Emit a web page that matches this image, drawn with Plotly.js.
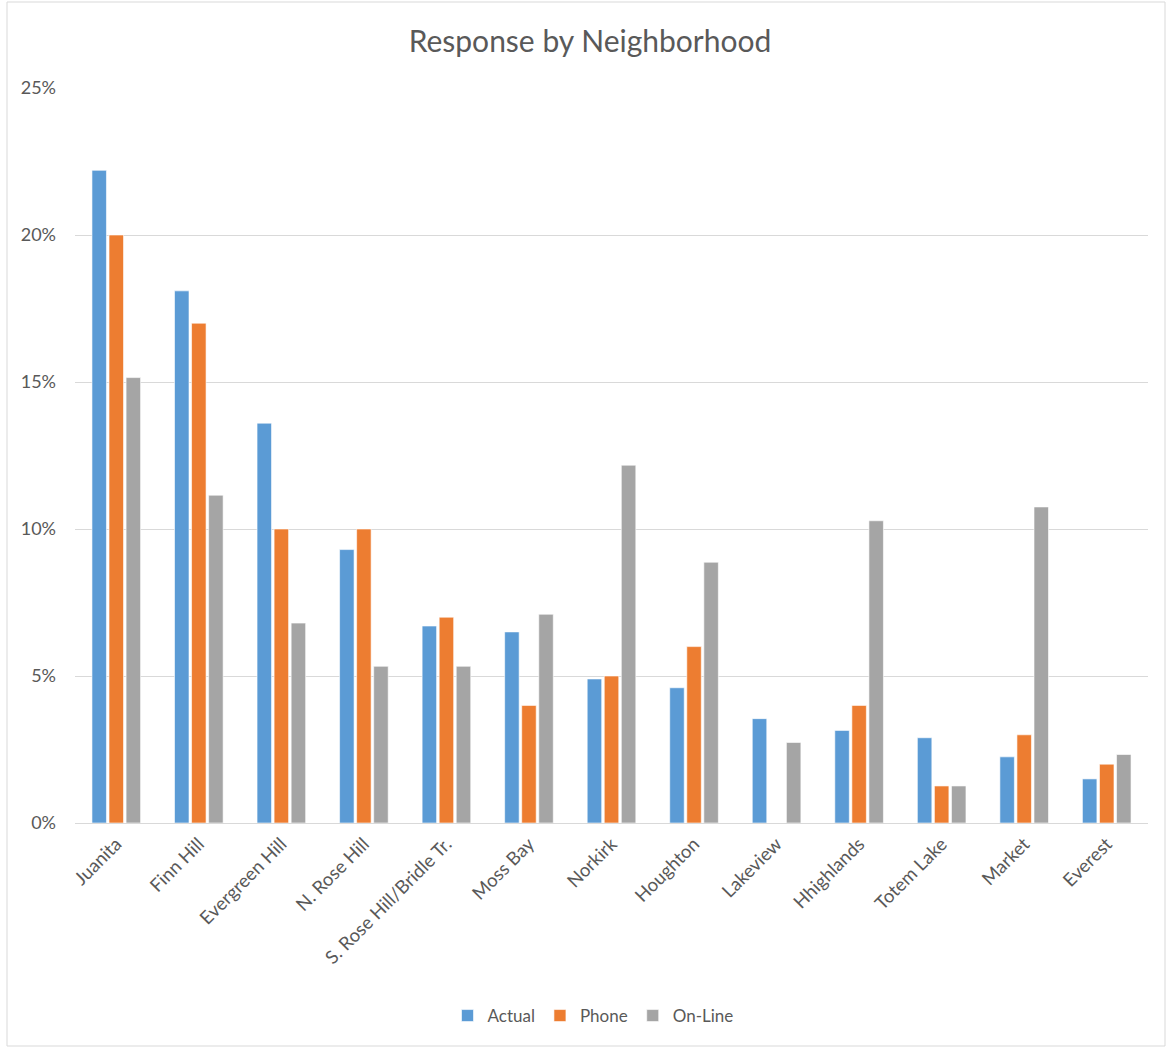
<!DOCTYPE html>
<html>
<head>
<meta charset="utf-8">
<script src="https://cdn.plot.ly/plotly-3.0.1.min.js"></script>
<style>
  html, body { margin: 0; padding: 0; background: #ffffff; }
  #chart { width: 1171px; height: 1049px; }
</style>
</head>
<body>
<div id="chart"></div>
<script>
const categories = ["Juanita", "Finn Hill", "Evergreen Hill", "N. Rose Hill", "S. Rose Hill/Bridle Tr.", "Moss Bay", "Norkirk", "Houghton", "Lakeview", "Hhighlands", "Totem Lake", "Market", "Everest"];
const actual = [22.2, 18.1, 13.6, 9.3, 6.7, 6.5, 4.9, 4.6, 3.55, 3.15, 2.9, 2.25, 1.5];
const phone  = [20.0, 17.0, 10.0, 10.0, 7.0, 4.0, 5.0, 6.0, 0, 4.0, 1.26, 3.0, 2.0];
const online = [15.15, 11.15, 6.8, 5.33, 5.33, 7.1, 12.17, 8.87, 2.74, 10.28, 1.26, 10.75, 2.33];
const seriesNames = ["Actual", "Phone", "On-Line"];
const seriesColors = ["#5B9BD5", "#ED7D31", "#A5A5A5"];
const yTicks = [0, 5, 10, 15, 20, 25];

const FONT = "Lato, 'Open Sans', sans-serif";
const TXT = "#595959";

const data = [actual, phone, online].map((vals, i) => ({
  type: "bar",
  name: seriesNames[i],
  x: categories,
  y: vals,
  marker: { color: seriesColors[i], line: { color: "#ffffff", width: 0.6 } },
  hovertemplate: "%{x}: %{y}%<extra>" + seriesNames[i] + "</extra>"
}));

// border of chart area (paper coords relative to plot area)
const L = 75, R = 1148, T = 88, B = 823;
const px = v => (v - L) / (R - L);
const py = v => (B - v) / (B - T);

const layout = {
  width: 1171,
  height: 1049,
  paper_bgcolor: "#ffffff",
  plot_bgcolor: "#ffffff",
  margin: { l: L, r: 1171 - R, t: T, b: 1049 - B, pad: 0 },
  font: { family: FONT, color: TXT, size: 17 },
  title: {
    text: "Response by Neighborhood",
    font: { family: FONT, size: 30, color: TXT },
    x: 590 / 1171, xref: "container", xanchor: "center",
    y: 1 - 41 / 1049, yref: "container", yanchor: "middle"
  },
  barmode: "group",
  bargap: 0.38,
  bargroupgap: 0.15,
  xaxis: {
    type: "category",
    tickangle: -45,
    showgrid: false,
    showline: true,
    linecolor: "#D9D9D9",
    linewidth: 1,
    ticks: "",
    ticklabelstandoff: 2,
    tickfont: { family: FONT, size: 18.5, color: TXT },
    automargin: false
  },
  yaxis: {
    range: [0, 25],
    tickvals: yTicks,
    ticktext: yTicks.map(v => v + "%"),
    showgrid: true,
    gridcolor: "#D9D9D9",
    gridwidth: 1,
    zeroline: true,
    zerolinecolor: "#D9D9D9",
    showline: false,
    ticks: "",
    ticklabelstandoff: 18,
    tickfont: { family: FONT, size: 18, color: TXT },
    automargin: false
  },
  showlegend: true,
  legend: {
    orientation: "h",
    x: px(593), xanchor: "center",
    y: py(1016), yanchor: "middle",
    font: { family: FONT, size: 17, color: TXT },
    itemwidth: 30,
    traceorder: "normal"
  },
  shapes: [{
    type: "rect", xref: "paper", yref: "paper",
    x0: px(7), x1: px(1165), y0: py(1046), y1: py(2),
    line: { color: "#D9D9D9", width: 1 },
    fillcolor: "rgba(0,0,0,0)",
    layer: "below"
  }]
};

Plotly.newPlot("chart", data, layout, { displayModeBar: false, responsive: false });
</script>
</body>
</html>
